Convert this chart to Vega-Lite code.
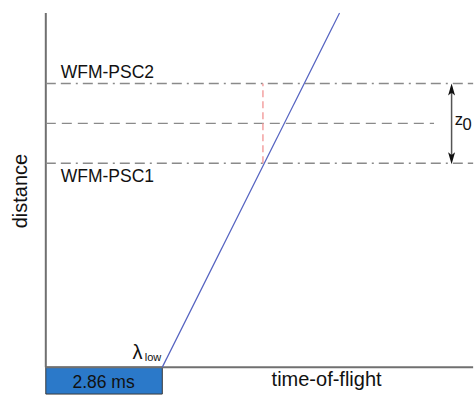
{
  "$schema": "https://vega.github.io/schema/vega-lite/v6.json",
  "width": 475,
  "height": 395,
  "autosize": {"type": "fit", "contains": "padding"},
  "padding": 0,
  "background": "white",
  "config": {"view": {"stroke": null}},
  "encoding": {
    "x": {"field": "t", "type": "quantitative", "scale": {"domain": [-1.1244, 10.4867], "nice": false, "zero": false}, "axis": null},
    "y": {"field": "d", "type": "quantitative", "scale": {"domain": [-7.303, 103.652], "nice": false, "zero": false}, "axis": null}
  },
  "layer": [
    {
      "data": {"values": [{"t": 0, "t2": 2.86, "d": 0, "d2": -7.6}]},
      "mark": {"type": "rect", "fill": "#2b79c9", "stroke": "#3a3a3a", "strokeWidth": 1},
      "encoding": {"x2": {"field": "t2"}, "y2": {"field": "d2"}}
    },
    {
      "data": {"values": [{"t": 0, "d": 0, "d2": 100}]},
      "mark": {"type": "rule", "color": "#707070", "strokeWidth": 2},
      "encoding": {"y2": {"field": "d2"}}
    },
    {
      "data": {"values": [{"t": 0, "t2": 10.49, "d": 0}]},
      "mark": {"type": "rule", "color": "#707070", "strokeWidth": 2},
      "encoding": {"x2": {"field": "t2"}}
    },
    {
      "data": {"values": [{"line": "WFM-PSC2", "t": 0, "t2": 10.49, "d": 80.06}, {"line": "WFM-PSC1", "t": 0, "t2": 10.49, "d": 57.58}]},
      "mark": {"type": "rule", "color": "#8a8a8a", "strokeWidth": 1.4, "strokeDash": [10, 5, 10, 5, 2, 5]},
      "encoding": {"x2": {"field": "t2"}}
    },
    {
      "data": {"values": [{"t": 0, "t2": 9.53, "d": 68.82}]},
      "mark": {"type": "rule", "color": "#8a8a8a", "strokeWidth": 1.4, "strokeDash": [10, 6]},
      "encoding": {"x2": {"field": "t2"}}
    },
    {
      "data": {"values": [{"t": 5.33, "d": 57.58, "d2": 80.06}]},
      "mark": {"type": "rule", "color": "#f29a9a", "strokeWidth": 1.4, "strokeDash": [7, 4]},
      "encoding": {"y2": {"field": "d2"}}
    },
    {
      "data": {"values": [{"t": 2.86, "d": 0}, {"t": 7.21, "d": 100}]},
      "mark": {"type": "line", "color": "#5563c1", "strokeWidth": 1.2},
      "encoding": {}
    },
    {
      "data": {"values": [{"t": 9.961, "d": 58.5, "d2": 79.2}]},
      "mark": {"type": "rule", "color": "#555555", "strokeWidth": 1.5},
      "encoding": {"y2": {"field": "d2"}}
    },
    {
      "data": {"values": [{"t": 9.961, "d": 78.37}]},
      "mark": {"type": "point", "shape": "M0,-1L0.58,1L0,0.55L-0.58,1Z", "size": 144, "filled": true, "color": "#111111", "opacity": 1}
    },
    {
      "data": {"values": [{"t": 9.961, "d": 58.99}]},
      "mark": {"type": "point", "shape": "M0,1L0.58,-1L0,-0.55L-0.58,-1Z", "size": 144, "filled": true, "color": "#111111", "opacity": 1}
    },
    {
      "data": {"values": [{"label": "WFM-PSC2", "t": 0.367, "d": 81.6}, {"label": "WFM-PSC1", "t": 0.367, "d": 52.25}]},
      "mark": {"type": "text", "font": "Liberation Sans", "fontSize": 17.5, "align": "left", "baseline": "alphabetic", "color": "#111111"},
      "encoding": {"text": {"field": "label"}}
    },
    {
      "data": {"values": [{"label": "distance", "t": -0.611, "d": 49.7}]},
      "mark": {"type": "text", "font": "Liberation Sans", "fontSize": 20, "angle": 270, "align": "center", "baseline": "middle", "color": "#111111"},
      "encoding": {"text": {"field": "label"}}
    },
    {
      "data": {"values": [{"label": "time-of-flight", "t": 6.893, "d": -5.34}]},
      "mark": {"type": "text", "font": "Liberation Sans", "fontSize": 20, "align": "center", "baseline": "alphabetic", "color": "#111111"},
      "encoding": {"text": {"field": "label"}}
    },
    {
      "data": {"values": [{"label": "2.86 ms", "t": 1.418, "d": -5.9}]},
      "mark": {"type": "text", "font": "Liberation Sans", "fontSize": 17.5, "align": "center", "baseline": "alphabetic", "color": "#111111"},
      "encoding": {"text": {"field": "label"}}
    },
    {
      "data": {"values": [{"label": "λ", "t": 2.127, "d": 2.25}]},
      "mark": {"type": "text", "font": "Liberation Sans", "fontSize": 20, "align": "left", "baseline": "alphabetic", "color": "#111111"},
      "encoding": {"text": {"field": "label"}}
    },
    {
      "data": {"values": [{"label": "low", "t": 2.43, "d": 1.69}]},
      "mark": {"type": "text", "font": "Liberation Sans", "fontSize": 11, "align": "left", "baseline": "alphabetic", "color": "#111111"},
      "encoding": {"text": {"field": "label"}}
    },
    {
      "data": {"values": [{"label": "z", "t": 10.04, "d": 68.26}, {"label": "0", "t": 10.23, "d": 66.85}]},
      "mark": {"type": "text", "font": "Liberation Sans", "fontSize": 16.5, "align": "left", "baseline": "alphabetic", "color": "#111111"},
      "encoding": {"text": {"field": "label"}}
    }
  ]
}
